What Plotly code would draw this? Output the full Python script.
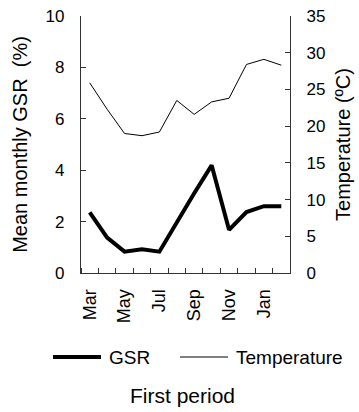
import plotly.graph_objects as go

months = ["Mar", "Apr", "May", "Jun", "Jul", "Aug", "Sep", "Oct", "Nov", "Dec", "Jan", "Feb"]
gsr = [2.36, 1.38, 0.83, 0.92, 0.83, 2.0, 3.1, 4.19, 1.68, 2.37, 2.6, 2.6]
temperature = [25.9, 22.3, 19.0, 18.7, 19.2, 23.5, 21.6, 23.3, 23.8, 28.4, 29.1, 28.3]

x_idx = list(range(len(months)))
label_idx = x_idx[::2]
label_text = months[::2]

FONT = "Liberation Sans, Arial, sans-serif"
W, H = 359, 412
L, R, T, B = 81, 69, 16, 139
pw, ph = W - L - R, H - T - B


def px_x(x):
    return (x - L) / pw


def px_y(y):
    return (H - B - y) / ph


fig = go.Figure()
fig.add_trace(go.Scatter(x=x_idx, y=gsr, mode="lines", name="GSR",
                         line=dict(color="black", width=4), showlegend=False))
fig.add_trace(go.Scatter(x=x_idx, y=temperature, mode="lines", name="Temperature",
                         yaxis="y2", line=dict(color="black", width=1), showlegend=False))

axis_col = "#333333"
fig.update_layout(
    width=W, height=H,
    margin=dict(l=L, r=R, t=T, b=B, autoexpand=False),
    paper_bgcolor="white", plot_bgcolor="white",
    font=dict(family=FONT, color="black", size=16),
    xaxis=dict(range=[-0.5, 11.5], tickmode="array", tickvals=label_idx, ticktext=label_text,
               tickangle=-90, ticks="", showgrid=False, zeroline=False, automargin=False,
               showline=True, linecolor=axis_col, linewidth=1.3,
               tickfont=dict(size=18), ticklabelstandoff=8,
               minor=dict(tickmode="linear", tick0=-0.5, dtick=1, ticks="inside",
                          ticklen=5, tickcolor=axis_col, showgrid=False)),
    yaxis=dict(range=[0, 10], dtick=2, ticks="inside", ticklen=5, tickcolor=axis_col,
               showgrid=False, zeroline=False, showline=True, linecolor=axis_col,
               linewidth=1.3, tickfont=dict(size=17), ticklabelstandoff=12, automargin=False,
               title=dict(text="Mean monthly GSR  (%)", font=dict(size=20), standoff=12)),
    yaxis2=dict(range=[0, 35], dtick=5, ticks="inside", ticklen=5, tickcolor=axis_col,
                overlaying="y", side="right", automargin=False,
                showgrid=False, zeroline=False, showline=True, linecolor=axis_col,
                linewidth=1.3, tickfont=dict(size=17), ticklabelstandoff=12,
                title=dict(text="Temperature (ºC)", font=dict(size=20), standoff=11)),
)

# manual legend
leg_y = px_y(357)
fig.add_shape(type="line", xref="paper", yref="paper", x0=px_x(53), x1=px_x(101),
              y0=leg_y, y1=leg_y, line=dict(color="black", width=4))
fig.add_annotation(xref="paper", yref="paper", x=px_x(107), y=leg_y, text="GSR",
                   showarrow=False, xanchor="left", yanchor="middle", font=dict(size=19))
fig.add_shape(type="line", xref="paper", yref="paper", x0=px_x(180), x1=px_x(228),
              y0=leg_y, y1=leg_y, line=dict(color="black", width=1))
fig.add_annotation(xref="paper", yref="paper", x=px_x(234), y=leg_y, text="Temperature",
                   showarrow=False, xanchor="left", yanchor="middle", font=dict(size=19))

fig.add_annotation(xref="paper", yref="paper", x=px_x(182), y=px_y(395), text="First period",
                   showarrow=False, xanchor="center", yanchor="middle", font=dict(size=21))

fig.write_html("out.html")
